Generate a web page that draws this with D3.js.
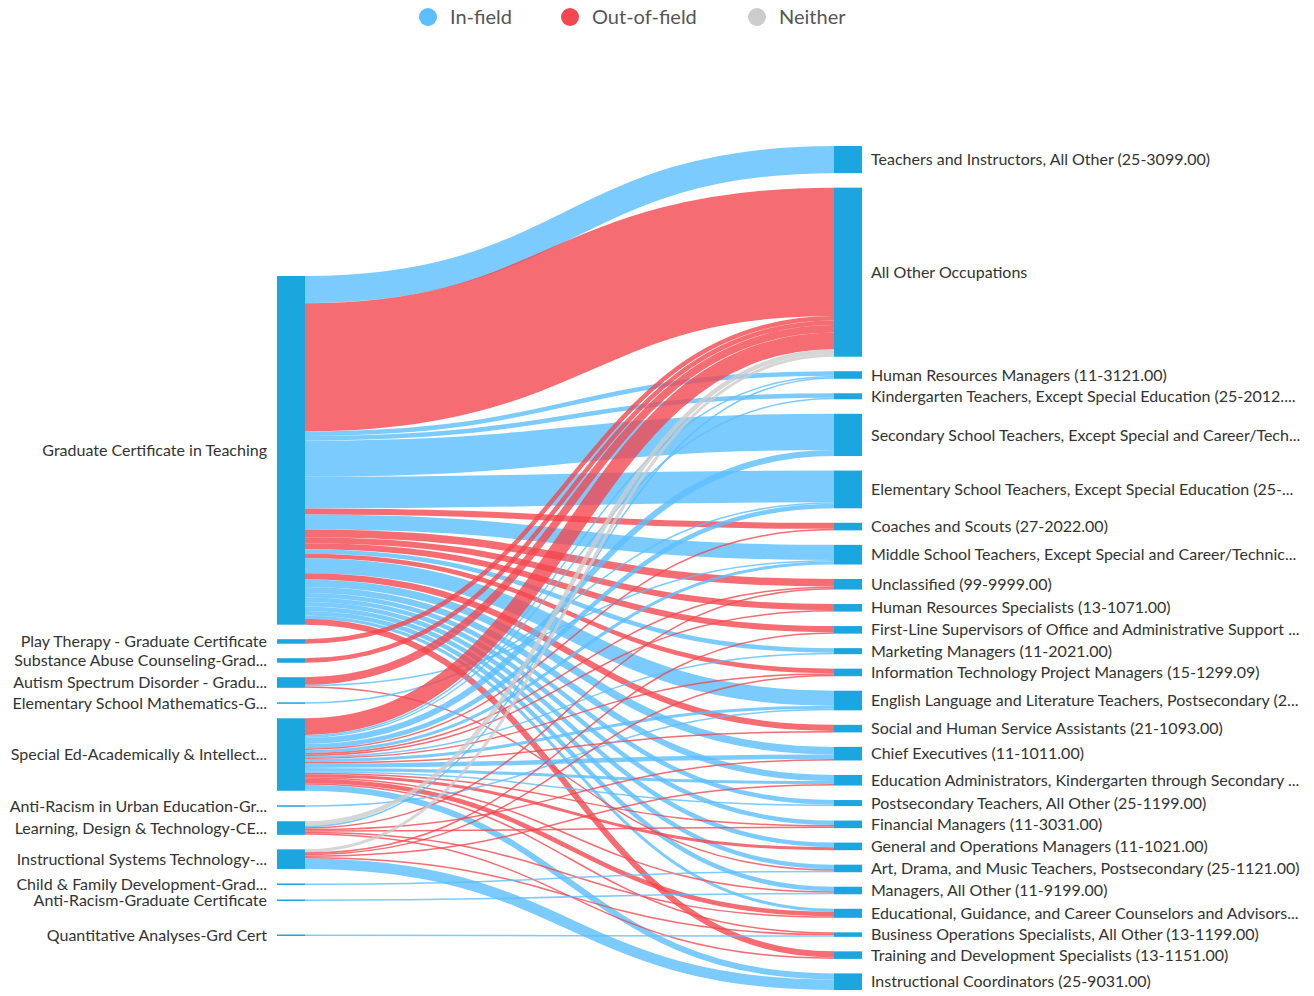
<!DOCTYPE html>
<html>
<head>
<meta charset="utf-8">
<script src="https://cdn.jsdelivr.net/npm/d3@7"></script>
<style>
	html, body { margin: 0; padding: 0; background: #fff; }
	#canvas { width: 1314px; height: 996px; }
	.node-label { font-family: Lato, "Open Sans", sans-serif; font-size: 16px; fill: #333; }
	.legend-label { font-family: Lato, "Open Sans", sans-serif; font-size: 20px; fill: #555; }
</style>
</head>
<body>
<div id="canvas"></div>
<script>

// Programs (left column)
var sources = [
	'Graduate Certificate in Teaching',
	'Play Therapy - Graduate Certificate',
	'Substance Abuse Counseling-Grad...',
	'Autism Spectrum Disorder - Gradu...',
	'Elementary School Mathematics-G...',
	'Special Ed-Academically & Intellect...',
	'Anti-Racism in Urban Education-Gr...',
	'Learning, Design & Technology-CE...',
	'Instructional Systems Technology-...',
	'Child & Family Development-Grad...',
	'Anti-Racism-Graduate Certificate',
	'Quantitative Analyses-Grd Cert'
];

// Occupations (right column)
var targets = [
	'Teachers and Instructors, All Other (25-3099.00)',
	'All Other Occupations',
	'Human Resources Managers (11-3121.00)',
	'Kindergarten Teachers, Except Special Education (25-2012....',
	'Secondary School Teachers, Except Special and Career/Tech...',
	'Elementary School Teachers, Except Special Education (25-...',
	'Coaches and Scouts (27-2022.00)',
	'Middle School Teachers, Except Special and Career/Technic...',
	'Unclassified (99-9999.00)',
	'Human Resources Specialists (13-1071.00)',
	'First-Line Supervisors of Office and Administrative Support ...',
	'Marketing Managers (11-2021.00)',
	'Information Technology Project Managers (15-1299.09)',
	'English Language and Literature Teachers, Postsecondary (2...',
	'Social and Human Service Assistants (21-1093.00)',
	'Chief Executives (11-1011.00)',
	'Education Administrators, Kindergarten through Secondary ...',
	'Postsecondary Teachers, All Other (25-1199.00)',
	'Financial Managers (11-3031.00)',
	'General and Operations Managers (11-1021.00)',
	'Art, Drama, and Music Teachers, Postsecondary (25-1121.00)',
	'Managers, All Other (11-9199.00)',
	'Educational, Guidance, and Career Counselors and Advisors...',
	'Business Operations Specialists, All Other (13-1199.00)',
	'Training and Development Specialists (13-1151.00)',
	'Instructional Coordinators (25-9031.00)'
];

// Legend categories
var categories = ['in', 'out', 'neither'];
var categoryLabels = ['In-field', 'Out-of-field', 'Neither'];

// Flows: [source index, target index, category, graduates]
var flows = [
	[0, 0, 'in', 18], [0, 1, 'out', 85], [0, 2, 'in', 3], [0, 3, 'in', 3], [0, 4, 'in', 24],
	[0, 5, 'in', 21], [0, 6, 'out', 4], [0, 7, 'in', 10], [0, 8, 'out', 5], [0, 9, 'out', 4],
	[0, 10, 'out', 4], [0, 11, 'in', 3], [0, 12, 'out', 3], [0, 13, 'in', 10], [0, 14, 'out', 4],
	[0, 15, 'in', 5], [0, 16, 'in', 4], [0, 17, 'in', 3], [0, 18, 'in', 3], [0, 19, 'in', 3],
	[0, 20, 'in', 3], [0, 21, 'in', 3], [0, 22, 'in', 2], [0, 24, 'out', 4],
	[1, 1, 'out', 3],
	[2, 1, 'out', 3],
	[3, 1, 'out', 5], [3, 7, 'in', 1], [3, 20, 'out', 1],
	[4, 5, 'in', 1],
	[5, 1, 'out', 11], [5, 2, 'in', 1], [5, 3, 'in', 1], [5, 4, 'in', 4], [5, 5, 'in', 3],
	[5, 6, 'out', 1], [5, 7, 'in', 2], [5, 8, 'out', 1], [5, 9, 'out', 1], [5, 11, 'in', 1],
	[5, 12, 'out', 1], [5, 13, 'in', 2], [5, 14, 'out', 1], [5, 15, 'in', 3], [5, 16, 'in', 2],
	[5, 17, 'in', 1], [5, 18, 'out', 1], [5, 19, 'out', 2], [5, 21, 'out', 1], [5, 22, 'out', 3],
	[5, 23, 'out', 1], [5, 25, 'in', 4],
	[6, 13, 'in', 1],
	[7, 1, 'neither', 3], [7, 2, 'in', 1], [7, 8, 'out', 1], [7, 15, 'out', 1], [7, 18, 'out', 1],
	[7, 22, 'out', 1], [7, 24, 'out', 1],
	[8, 1, 'neither', 2], [8, 10, 'out', 1], [8, 12, 'out', 1], [8, 16, 'out', 1], [8, 23, 'out', 1],
	[8, 25, 'in', 7],
	[9, 20, 'in', 1],
	[10, 21, 'in', 1],
	[11, 23, 'in', 1]
];

document.addEventListener('DOMContentLoaded', function() {

	// UI
	var width = 1314,
		height = 996,
		svg = d3.select('#canvas').append('svg').attr('width', width).attr('height', height),
		nodeWidth = 28,
		nodePadding = 14.5,
		leftX = 277,
		rightX = 834,
		leftTop = 276,
		leftBottom = 936,
		rightTop = 146,
		rightBottom = 990,
		nodeColor = '#1ba6df',
		color = d3.scaleOrdinal().domain(categories).range(['#5bbeff', '#f2474f', '#cccccc']);

	// Build nodes and links
	var links = flows.map(function(f) {
		return { source: f[0], target: f[1], type: f[2], value: f[3] };
	});
	var leftNodes = sources.map(function(name, i) {
		return { name: name, value: d3.sum(links, function(l) { return l.source === i ? l.value : 0; }) };
	});
	var rightNodes = targets.map(function(name, i) {
		return { name: name, value: d3.sum(links, function(l) { return l.target === i ? l.value : 0; }) };
	});

	// Value to pixels, fitted to the right column
	var total = d3.sum(rightNodes, function(d) { return d.value; }),
		px = d3.scaleLinear()
			.domain([0, total])
			.range([0, rightBottom - rightTop - (targets.length - 1) * nodePadding]);

	// Stack a column of nodes
	function stack(nodes, x, top) {
		var y = top;
		nodes.forEach(function(n) {
			n.x0 = x;
			n.x1 = x + nodeWidth;
			n.y0 = y;
			n.y1 = y + px(n.value);
			y = n.y1 + nodePadding;
		});
	}
	stack(leftNodes, leftX, leftTop);
	stack(rightNodes, rightX, rightTop);

	// Last program sits at the bottom of the left column
	var last = leftNodes[leftNodes.length - 1],
		lastH = last.y1 - last.y0;
	last.y1 = Math.max(last.y1, leftBottom);
	last.y0 = last.y1 - lastH;

	// Link offsets at both ends
	links.forEach(function(l) { l.width = px(l.value); });
	leftNodes.forEach(function(n, i) {
		var y = n.y0;
		links.filter(function(l) { return l.source === i; })
			.sort(function(a, b) { return a.target - b.target; })
			.forEach(function(l) { l.sy = y + l.width / 2; y += l.width; });
	});
	rightNodes.forEach(function(n, i) {
		var y = n.y0;
		links.filter(function(l) { return l.target === i; })
			.sort(function(a, b) { return a.source - b.source; })
			.forEach(function(l) { l.ty = y + l.width / 2; y += l.width; });
	});

	var linkPath = d3.linkHorizontal()
		.source(function(d) { return [leftNodes[d.source].x1, d.sy]; })
		.target(function(d) { return [rightNodes[d.target].x0, d.ty]; });

	// Links
	svg.append('g')
		.attr('fill', 'none')
		.selectAll('path')
		.data(links)
		.enter()
			.append('path')
			.attr('d', linkPath)
			.attr('stroke', function(d) { return color(d.type); })
			.attr('stroke-opacity', 0.8)
			.attr('stroke-width', function(d) { return Math.max(1, d.width); });

	// Nodes
	var allNodes = leftNodes.concat(rightNodes);
	svg.append('g')
		.selectAll('rect')
		.data(allNodes)
		.enter()
			.append('rect')
			.attr('x', function(d) { return d.x0; })
			.attr('y', function(d) { return d.y0; })
			.attr('width', nodeWidth)
			.attr('height', function(d) { return Math.max(1, d.y1 - d.y0); })
			.attr('fill', nodeColor);

	// Labels
	svg.append('g')
		.selectAll('text')
		.data(allNodes)
		.enter()
			.append('text')
			.attr('class', 'node-label')
			.attr('x', function(d) { return d.x0 < width / 2 ? d.x0 - 10 : d.x1 + 9; })
			.attr('y', function(d) { return (d.y0 + d.y1) / 2; })
			.attr('dy', '0.35em')
			.attr('text-anchor', function(d) { return d.x0 < width / 2 ? 'end' : 'start'; })
			.text(function(d) { return d.name; });

	// Legend
	var legendItems = [428, 570, 757];
	var legend = svg.append('g')
		.selectAll('g')
		.data(categories)
		.enter()
			.append('g')
			.attr('transform', function(d, i) { return 'translate(' + legendItems[i] + ',17)'; });
	legend.append('circle')
		.attr('r', 9)
		.attr('fill', function(d) { return color(d); });
	legend.append('text')
		.attr('class', 'legend-label')
		.attr('x', 22)
		.attr('dy', '0.35em')
		.text(function(d, i) { return categoryLabels[i]; });

});
</script>
</body>
</html>
